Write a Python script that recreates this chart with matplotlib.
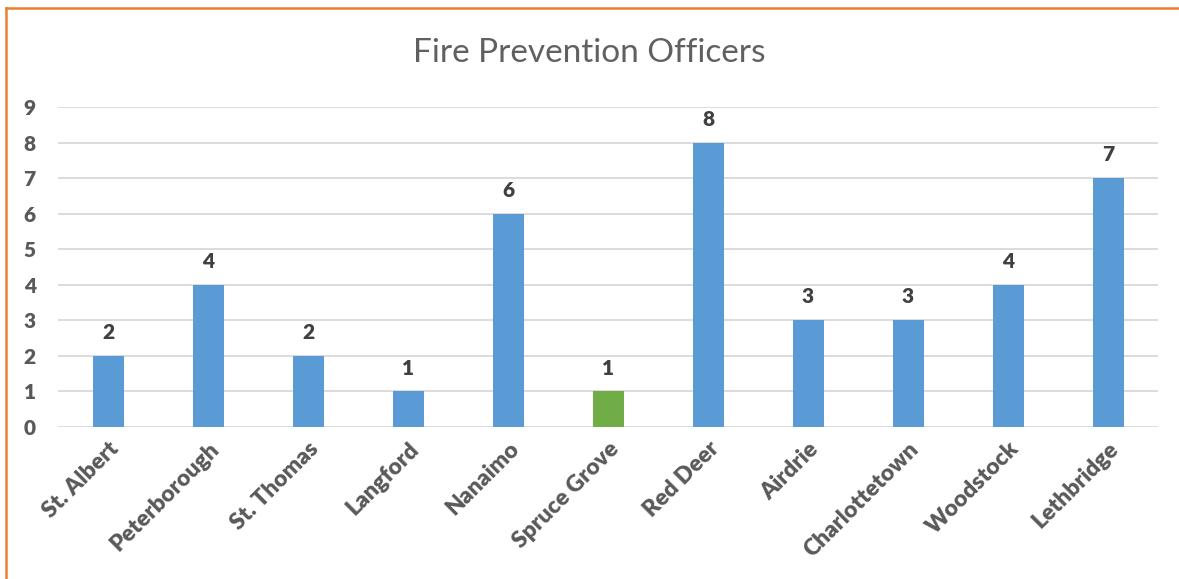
import matplotlib
matplotlib.use("Agg")
from matplotlib import pyplot as plt
from matplotlib.lines import Line2D

cities = ['St. Albert', 'Peterborough', 'St. Thomas', 'Langford', 'Nanaimo',
          'Spruce Grove', 'Red Deer', 'Airdrie', 'Charlottetown', 'Woodstock',
          'Lethbridge']
officers = [2, 4, 2, 1, 6, 1, 8, 3, 3, 4, 7]
highlight = 'Spruce Grove'

blue = '#5B9BD5'
green = '#70AD47'
grey_text = '#595959'


def main():
    plt.rcParams['font.family'] = ['Lato', 'DejaVu Sans']
    fig = plt.figure(figsize=(11.79, 5.79), dpi=100)
    ax = fig.add_axes([58 / 1179, 1 - 427 / 579, 1100 / 1179, 320 / 579])

    colors = [green if c == highlight else blue for c in cities]
    x = list(range(len(cities)))
    bars = ax.bar(x, officers, width=0.31, color=colors, zorder=3)

    for b, v in zip(bars, officers):
        ax.annotate(str(v), (b.get_x() + b.get_width() / 2, v),
                    xytext=(0, 10), textcoords='offset points',
                    ha='center', va='bottom', fontsize=15,
                    fontweight='heavy', color='#404040')

    ax.set_xlim(-0.5, len(cities) - 0.5)
    ax.set_ylim(0, 9)
    ax.set_yticks(range(10))
    ax.grid(axis='y', color='#D9D9D9', linewidth=1.3, zorder=0)
    for s in ax.spines.values():
        s.set_visible(False)
    ax.tick_params(length=0)
    ax.tick_params(axis='y', pad=16)
    ax.tick_params(axis='x', pad=8)
    ax.set_yticklabels([str(i) for i in range(10)], fontsize=15,
                       fontweight='heavy', color=grey_text)
    ax.set_xticks(x)
    ax.set_xticklabels(cities, rotation=45, ha='right', rotation_mode='anchor',
                       fontsize=16.5, fontweight='heavy', color=grey_text)

    fig.text(0.5, 1 - 53 / 579, 'Fire Prevention Officers', ha='center',
             va='center', fontsize=24, color='#606060')

    # orange frame along top and left edge
    fig.add_artist(Line2D([5.5 / 1179, 1], [1 - 7.5 / 579, 1 - 7.5 / 579],
                          color='#ED7D31', linewidth=1.8))
    fig.add_artist(Line2D([5.5 / 1179, 5.5 / 1179], [0, 1 - 7.5 / 579],
                          color='#ED7D31', linewidth=1.8))

    fig.savefig('out.png', dpi=100)


if __name__ in '__main__':
    main()
